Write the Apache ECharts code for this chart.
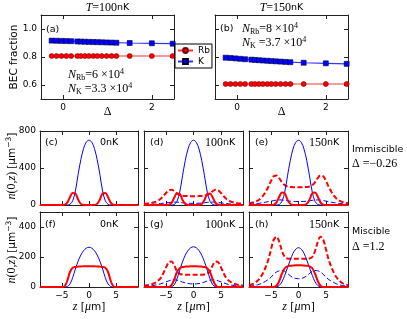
<!DOCTYPE html>
<html><head><meta charset="utf-8">
<script src="https://cdn.jsdelivr.net/npm/echarts@6/dist/echarts.min.js"></script>
<style>html,body{margin:0;padding:0;background:#fff}#c{width:407px;height:319px}</style>
</head><body><div id="c"></div>
<script>
// ---- top panels: BEC fraction vs Delta ----
const delta = [-0.26,-0.15,-0.04,0.07,0.18,0.32,0.4,0.49,0.58,0.68,0.77,0.87,0.98,1.09,1.2,1.5,2.0,2.47];
const rbA = [0.807,0.807,0.807,0.807,0.807,0.807,0.807,0.807,0.807,0.807,0.807,0.807,0.807,0.807,0.807,0.807,0.807,0.807];
const kA  = [0.917,0.916,0.915,0.914,0.913,0.911,0.910,0.909,0.908,0.907,0.906,0.905,0.904,0.903,0.902,0.900,0.898,0.895];
const rbB = [0.607,0.607,0.607,0.607,0.607,0.607,0.607,0.607,0.607,0.607,0.607,0.607,0.607,0.607,0.607,0.607,0.607,0.607];
const kB  = [0.795,0.793,0.790,0.787,0.784,0.781,0.779,0.777,0.775,0.773,0.771,0.769,0.767,0.765,0.763,0.759,0.755,0.751];
const topXTicks = [0,2];
const topYTicks = [0.6,0.8,1.0];

// ---- density profiles n(0,z) ----
const zs = [-9,-8.5,-8,-7.5,-7,-6.5,-6,-5.5,-5,-4.5,-4,-3.5,-3,-2.5,-2,-1.5,-1,-0.5,0,0.5,1,1.5,2,2.5,3,3.5,4,4.5,5,5.5,6,6.5,7,7.5,8,8.5,9];
const zTicks = [-5,0,5];
const row1Ticks = [0,400,800];
const row2Ticks = [0,200,400];
// (c) 0nK immiscible
const kC  = [0,0,0,0,0,0,0,0,0,0,0,8,45,150,330,490,610,680,700,680,610,490,330,150,45,8,0,0,0,0,0,0,0,0,0,0,0];
const rbC = [0,0,0,0,0,0,0,0,0,2,25,85,130,125,60,12,1,0,0,0,1,12,60,125,130,85,25,2,0,0,0,0,0,0,0,0,0];
// (d) 100nK immiscible
const kD    = [0,0,0,0,0,0,0,0,0,0,0,6,40,140,315,480,605,678,700,678,605,480,315,140,40,6,0,0,0,0,0,0,0,0,0,0,0];
const rbD   = [0,0,0,0,0,0,0,0,0,2,22,80,125,120,55,10,1,0,0,0,1,10,55,120,125,80,22,2,0,0,0,0,0,0,0,0,0];
const rbThD = [12,15,18,24,32,45,65,95,130,158,165,150,125,108,100,97,96,95,95,95,96,97,100,108,125,150,165,158,130,95,65,45,32,24,18,15,12];
const kThD  = [3,4,5,7,9,12,15,19,23,27,30,32,31,28,24,21,19,18,18,18,19,21,24,28,31,32,30,27,23,19,15,12,9,7,5,4,3];
// (e) 150nK immiscible
const kE    = [0,0,0,0,0,0,0,0,0,0,0,6,40,140,315,480,605,678,700,678,605,480,315,140,40,6,0,0,0,0,0,0,0,0,0,0,0];
const rbE   = [0,0,0,0,0,0,0,0,0,3,28,90,135,125,58,12,1,0,0,0,1,12,58,125,135,90,28,3,0,0,0,0,0,0,0,0,0];
const rbThE = [18,25,32,45,65,95,140,195,260,310,320,290,245,215,200,195,193,192,192,192,193,195,200,215,245,290,320,310,260,195,140,95,65,45,32,25,18];
const kThE  = [8,10,13,16,20,25,30,36,42,48,53,55,54,50,45,41,39,38,38,38,39,41,45,50,54,55,53,48,42,36,30,25,20,16,13,10,8];
// (f) 0nK miscible
const kF  = [0,0,0,0,0,0,0,0,0,0,3,20,62,120,172,213,242,259,265,259,242,213,172,120,62,20,3,0,0,0,0,0,0,0,0,0,0];
const rbF = [0,0,0,0,0,0,0,0,0,4,40,100,128,134,136,137,138,139,139,139,138,137,136,134,128,100,40,4,0,0,0,0,0,0,0,0,0];
// (g) 100nK miscible
const kG    = [0,0,0,0,0,0,0,0,0,0,2,15,55,112,168,212,243,262,268,262,243,212,168,112,55,15,2,0,0,0,0,0,0,0,0,0,0];
const rbG   = [0,0,0,0,0,0,0,0,0,0,12,50,100,125,133,136,137,138,138,138,137,136,133,125,100,50,12,0,0,0,0,0,0,0,0,0,0];
const rbThG = [10,12,15,20,28,40,58,90,130,165,170,145,105,88,83,82,82,82,82,82,82,82,83,88,105,145,170,165,130,90,58,40,28,20,15,12,10];
const kThG  = [4,5,7,9,12,16,21,27,34,41,46,48,46,40,33,27,23,21,20,21,23,27,33,40,46,48,46,41,34,27,21,16,12,9,7,5,4];
// (h) 150nK miscible
const kH    = [0,0,0,0,0,0,0,0,0,0,1,10,35,78,128,180,225,252,262,252,225,180,128,78,35,10,1,0,0,0,0,0,0,0,0,0,0];
const rbH   = [0,0,0,0,0,0,0,0,0,0,8,40,90,125,138,142,144,145,145,145,144,142,138,125,90,40,8,0,0,0,0,0,0,0,0,0,0];
const rbThH = [12,18,25,40,60,90,130,180,250,315,335,300,240,200,190,188,188,188,188,188,188,188,190,200,240,300,335,315,250,180,130,90,60,40,25,18,12];
const kThH  = [5,7,10,14,20,28,38,50,65,85,100,108,110,105,90,75,63,57,55,57,63,75,90,105,110,108,100,85,65,50,38,28,20,14,10,7,5];

const RED = '#ff0000', BLUE = '#0000ff', FR = '#222';
const grids = [
  {left:41, top:15, width:133, height:84},
  {left:215, top:15, width:133, height:84},
  {left:40, top:131, width:98, height:74},
  {left:144, top:131, width:99, height:74},
  {left:249, top:131, width:99, height:74},
  {left:40, top:212, width:98, height:75},
  {left:144, top:212, width:99, height:75},
  {left:249, top:212, width:99, height:75}
];
const minus = v => String(v).replace('-', '\u2212');
function ax(gi, pos, min, max, ticks, showLab, fmt) {
  return {type:'value', gridIndex:gi, position:pos, min:min, max:max,
    axisLine:{show:true, onZero:false, lineStyle:{color:FR, width:1}},
    axisTick:{show:true, inside:true, length:4, customValues:ticks, lineStyle:{color:FR, width:1}},
    axisLabel:{show:showLab, customValues:ticks, formatter:fmt, fontSize:9, color:'#000', margin:4, fontFamily:'DejaVu Sans'},
    splitLine:{show:false}};
}
const xAxis = [], yAxis = [];
grids.forEach((g, gi) => {
  if (gi < 2) {
    xAxis.push(ax(gi,'bottom',-0.5,2.5,topXTicks,true,v=>minus(v)));
    xAxis.push(ax(gi,'top',-0.5,2.5,topXTicks,false));
    yAxis.push(ax(gi,'left',0.5,1.1,topYTicks,gi===0,v=>v.toFixed(1)));
    yAxis.push(ax(gi,'right',0.5,1.1,topYTicks,false));
  } else {
    const row1 = gi < 5;
    const yt = row1 ? row1Ticks : row2Ticks;
    const ymax = row1 ? 800 : 500;
    xAxis.push(ax(gi,'bottom',-9,9,zTicks,!row1,v=>minus(v)));
    xAxis.push(ax(gi,'top',-9,9,zTicks,false));
    yAxis.push(ax(gi,'left',0,ymax,yt,gi===2||gi===5,v=>String(v)));
    yAxis.push(ax(gi,'right',0,ymax,yt,false));
  }
});

function prof(gi, ys, color, width, dashed, z) {
  return {type:'line', xAxisIndex:2*gi, yAxisIndex:2*gi, data: zs.map((x,i)=>[x, ys[i]]),
    symbol:'none', smooth:0.35, silent:true, z:z,
    lineStyle:{color:color, width:width, type: dashed ? [5,2.5] : 'solid'}, itemStyle:{color:color}};
}
function frac(gi, name, ys, color, symbol) {
  return {type:'line', name:name, xAxisIndex:2*gi, yAxisIndex:2*gi, data: delta.map((x,i)=>[x, ys[i]]),
    symbol:symbol, symbolSize:5, showAllSymbol:true,
    lineStyle:{color:color, width:1.2, opacity:0.8},
    itemStyle:{color:color, borderColor: color===RED ? '#700' : '#003', borderWidth:0.6}};
}
const series = [
  frac(0,'Rb',rbA,RED,'circle'), frac(0,'K',kA,BLUE,'rect'),
  frac(1,'Rb',rbB,RED,'circle'), frac(1,'K',kB,BLUE,'rect'),
  prof(2,kC,BLUE,1,false,3), prof(2,rbC,RED,2,false,4),
  prof(3,rbThD,RED,2,true,2), prof(3,kThD,BLUE,1,true,2), prof(3,kD,BLUE,1,false,3), prof(3,rbD,RED,2,false,4),
  prof(4,rbThE,RED,2,true,2), prof(4,kThE,BLUE,1,true,2), prof(4,kE,BLUE,1,false,3), prof(4,rbE,RED,2,false,4),
  prof(5,kF,BLUE,1,false,3), prof(5,rbF,RED,2,false,4),
  prof(6,rbThG,RED,2,true,2), prof(6,kThG,BLUE,1,true,2), prof(6,kG,BLUE,1,false,3), prof(6,rbG,RED,2,false,4),
  prof(7,rbThH,RED,2,true,2), prof(7,kThH,BLUE,1,true,2), prof(7,kH,BLUE,1,false,3), prof(7,rbH,RED,2,false,4)
];

const rich = {
  i:{fontFamily:'Liberation Serif', fontStyle:'italic', fontSize:12, lineHeight:14, fill:'#000'},
  s:{fontFamily:'Liberation Serif', fontSize:12, lineHeight:14, fill:'#000'},
  sub:{fontFamily:'Liberation Serif', fontSize:8, verticalAlign:'bottom', lineHeight:14, fill:'#000'},
  sup:{fontFamily:'Liberation Serif', fontSize:8, verticalAlign:'top', lineHeight:14, fill:'#000'},
  t:{fontFamily:'DejaVu Sans', fontSize:9.5, lineHeight:14, fill:'#000'},
  L:{fontFamily:'DejaVu Sans', fontSize:10.5, lineHeight:14, fill:'#000'},
  tsup:{fontFamily:'DejaVu Sans', fontSize:7.5, verticalAlign:'top', lineHeight:14, fill:'#000'}
};
function txt(text, x, y, align, rot) {
  return {type:'text', x:x, y:y, rotation: rot || 0, silent:true, z:100,
    style:{text:text, rich:rich, align:align||'left', verticalAlign:'middle', fill:'#000',
      font:'9.5px "DejaVu Sans"'}};
}
const graphic = [
  txt('{i|T}{s|=100}{t|nK}',107.5,8,'center'),
  txt('{i|T}{s|=150}{t|nK}',281.5,8,'center'),
  txt('{s|Δ}',107.5,112,'center'),
  txt('{s|Δ}',281.5,112,'center'),
  txt('{L|BEC fraction}',14,57,'center',Math.PI/2),
  txt('{t|(a)}',46,30), txt('{t|(b)}',220,29),
  txt('{i|N}{sub|Rb}{s|=6 ×10}{sup|4}',68,75),
  txt('{i|N}{sub|K}{s| =3.3 ×10}{sup|4}',68,89),
  txt('{i|N}{sub|Rb}{s|=8 ×10}{sup|4}',242,29),
  txt('{i|N}{sub|K}{s| =3.7 ×10}{sup|4}',242,43),
  txt('{i|n}{s|(0,}{i|z}{s|)} {L|[μm}{tsup|−3}{L|]}',12,166,'center',Math.PI/2),
  txt('{i|n}{s|(0,}{i|z}{s|)} {L|[μm}{tsup|−3}{L|]}',12,250,'center',Math.PI/2),
  txt('{t|(c)}',45,143), txt('{t|0nK}',100,143),
  txt('{t|(d)}',150,143), txt('{s|100}{t|nK}',205,143),
  txt('{t|(e)}',255,143), txt('{s|150}{t|nK}',309,143),
  txt('{t|(f)}',45,225), txt('{t|0nK}',100,225),
  txt('{t|(g)}',150,225), txt('{s|100}{t|nK}',205,225),
  txt('{t|(h)}',255,225), txt('{s|150}{t|nK}',309,225),
  txt('{i|z}{L| [}{i|μ}{L|m]}',89,307,'center'),
  txt('{i|z}{L| [}{i|μ}{L|m]}',193.5,307,'center'),
  txt('{i|z}{L| [}{i|μ}{L|m]}',298.5,307,'center'),
  txt('{t|Immiscible}',352,150), txt('{s|Δ =−0.26}',352,164),
  txt('{t|Miscible}',352,232), txt('{s|Δ =1.2}',352,247)
];

const chart = echarts.init(document.getElementById('c'), null, {renderer:'canvas'});
chart.setOption({
  animation:false,
  backgroundColor:'#fff',
  grid: grids.map(g => Object.assign({containLabel:false}, g)),
  xAxis: xAxis, yAxis: yAxis, series: series, graphic: graphic,
  legend:{data:['Rb','K'], left:175, top:44, orient:'vertical', itemWidth:15, itemHeight:6, itemGap:2,
    borderColor:'#000', borderWidth:1, backgroundColor:'#fff', padding:[2,2], borderRadius:0,
    textStyle:{fontSize:9, fontFamily:'DejaVu Sans', color:'#000'}, selectedMode:false, z:50}
});
</script></body></html>
